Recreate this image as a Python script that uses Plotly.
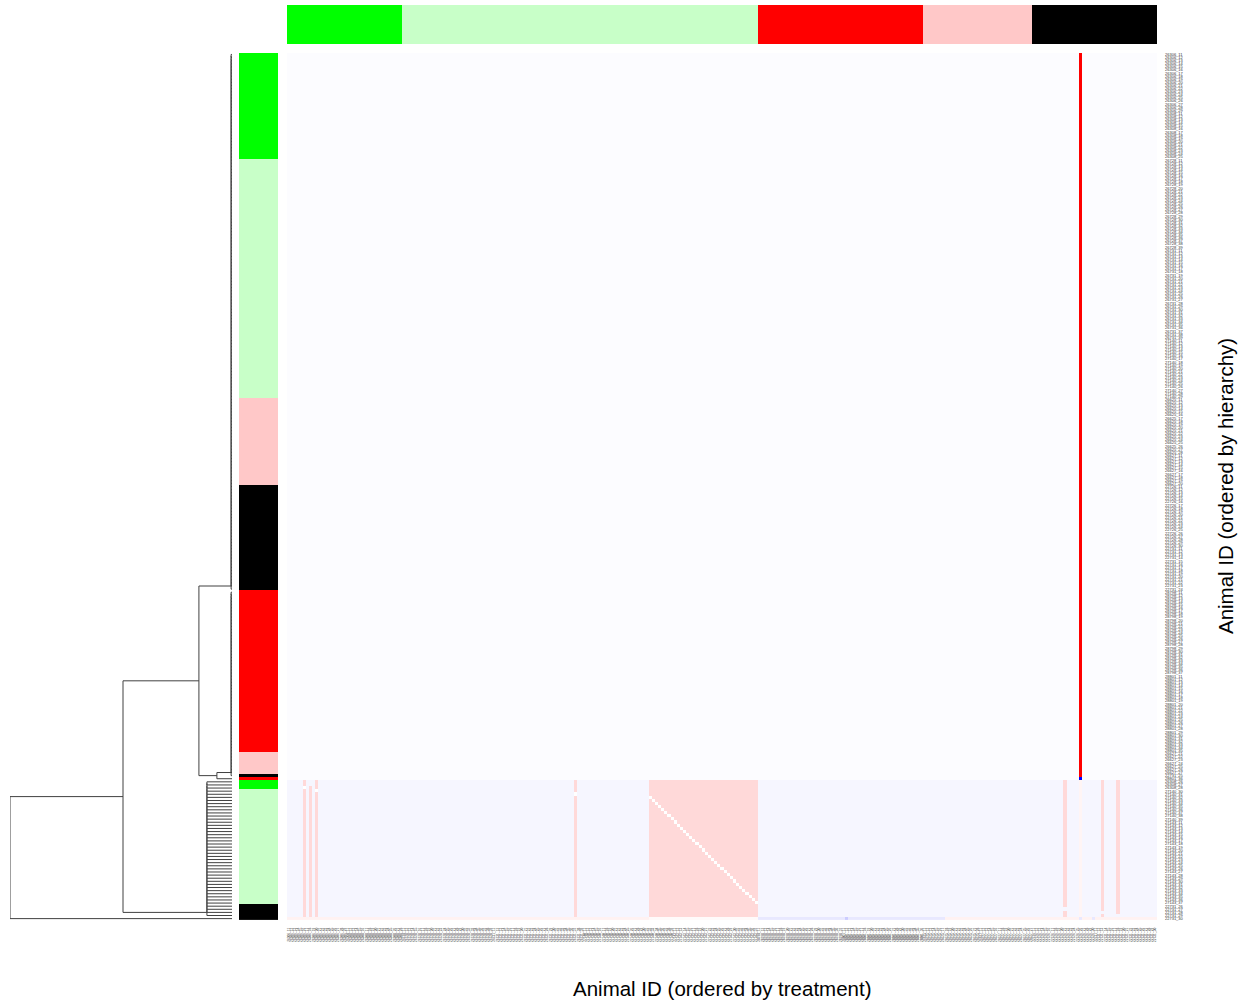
import numpy as np
import plotly.graph_objects as go

W, H = 1247, 1005

# ---- treatment groups (column order) ------------------------------------
group_colors = ["#00ff00", "#c8ffc8", "#ff0000", "#ffc8c8", "#000000"]
group_sizes = [37, 114, 53, 35, 40]
group_litters = [
    ["26306", "26308"],
    ["26728", "26731", "27140", "27143"],
    ["28798", "28801"],
    ["26625", "26627"],
    ["22726", "22731"],
]

# ---- hierarchical order of the rows: (group, number of animals) ----------
row_segments = [
    (0, 34), (1, 77), (3, 28), (4, 34), (2, 52), (3, 7), (4, 1),
    (2, 1), (0, 3), (1, 37), (4, 5),
]

# ---- similarity values: (row0, row1, col0, col1, value), later wins -----
value_blocks = [
    (0, 233, 0, 278, -0.012),
    (234, 277, 0, 278, -0.035),
    (278, 278, 0, 278, 0.05),
    (278, 278, 116, 150, 0.02),
    (278, 278, 151, 210, -0.09),
    (278, 278, 179, 179, -0.2),
    (278, 278, 254, 254, -0.09),
    (278, 278, 258, 258, -0.09),
    (0, 232, 254, 254, 1.0),
    (233, 233, 254, 254, -1.0),
    (234, 277, 254, 254, 0.04),
    (234, 277, 5, 5, 0.15), (236, 236, 5, 5, 0.0),
    (236, 277, 7, 7, 0.15),
    (234, 277, 9, 9, 0.15), (237, 237, 9, 9, 0.0),
    (234, 277, 92, 92, 0.15), (238, 238, 92, 92, 0.0),
    (234, 277, 116, 150, 0.15),
    (234, 274, 249, 249, 0.15), (276, 277, 249, 249, 0.15),
    (234, 275, 261, 261, 0.15), (277, 277, 261, 261, 0.15),
    (234, 276, 266, 266, 0.15),
]
# self pairs inside the pink block (row, col) start and length
diag_start = (239, 116)
diag_len = 35
diag_value = 0.0

# ---- dendrogram ----------------------------------------------------------
# runs of leaves merged one after another at one height (tied distances)
leaf_chains = {
    "A": (0, 172, 0.004),
    "B": (173, 232, 0.004),
    "E": (234, 277, 0.113),
}
# higher merges: (name, left, right, height); integers are single leaves
node_merges = [
    ("C", "B", 233, 0.068),
    ("D", "A", "C", 0.149),
    ("F", "D", "E", 0.491),
    ("root", "F", 278, 1.0),
]

# ---- build labels --------------------------------------------------------
col_group = []
col_labels = []
group_animals = []
for g, size in enumerate(group_sizes):
    litters = group_litters[g]
    per = int(np.ceil(size / len(litters)))
    ids = []
    for i in range(size):
        ids.append(f"{litters[i // per]}_{11 + i % per:02d}")
    group_animals.append(ids)
    col_labels.extend(ids)
    col_group.extend([g] * size)
N = len(col_labels)

row_group, row_labels = [], []
taken = [0] * len(group_sizes)
for g, n in row_segments:
    row_labels.extend(group_animals[g][taken[g]:taken[g] + n])
    row_group.extend([g] * n)
    taken[g] += n

# ---- matrix --------------------------------------------------------------
Z = np.zeros((N, N))
for r0, r1, c0, c1, v in value_blocks:
    Z[r0:r1 + 1, c0:c1 + 1] = v
for k in range(diag_len):
    Z[diag_start[0] + k, diag_start[1] + k] = diag_value

# ---- dendrogram segments -------------------------------------------------
seg_x, seg_y = [], []


def link(left, right, h):
    (pl, hl), (pr, hr) = left, right
    seg_x.extend([hl, h, h, hr, None])
    seg_y.extend([pl, pl, pr, pr, None])
    return ((pl + pr) / 2.0, h)


nodes = {}
for name, (a, b, h) in leaf_chains.items():
    cur = (a, 0.0)
    for leaf in range(a + 1, b + 1):
        cur = link(cur, (leaf, 0.0), h)
    nodes[name] = cur


def resolve(k):
    return nodes[k] if isinstance(k, str) else (k, 0.0)


for name, l, r, h in node_merges:
    nodes[name] = link(resolve(l), resolve(r), h)

# ---- figure --------------------------------------------------------------
def px_x(a, b):
    return [a / W, b / W]


def px_y(top, bottom):
    return [1 - bottom / H, 1 - top / H]


n_g = len(group_colors)
disc_scale = []
for i, c in enumerate(group_colors):
    disc_scale += [[i / n_g, c], [(i + 1) / n_g, c]]

fig = go.Figure()

fig.add_trace(go.Heatmap(
    z=Z, x=list(range(N)), y=list(range(N)),
    colorscale=[[0, "#0000ff"], [0.5, "#ffffff"], [1, "#ff0000"]],
    zmin=-1, zmax=1, showscale=False, zsmooth=False,
    xaxis="x", yaxis="y", hoverinfo="skip",
))

fig.add_trace(go.Heatmap(
    z=[col_group], x=list(range(N)), y=[0],
    colorscale=disc_scale, zmin=-0.5, zmax=n_g - 0.5, showscale=False,
    xaxis="x", yaxis="y2", hoverinfo="skip",
))

fig.add_trace(go.Heatmap(
    z=[[g] for g in row_group], x=[0], y=list(range(N)),
    colorscale=disc_scale, zmin=-0.5, zmax=n_g - 0.5, showscale=False,
    xaxis="x3", yaxis="y", hoverinfo="skip",
))

fig.add_trace(go.Scatter(
    x=seg_x, y=seg_y, mode="lines",
    line=dict(color="#404040", width=1),
    xaxis="x4", yaxis="y", hoverinfo="skip", showlegend=False,
))

hidden = dict(showgrid=False, zeroline=False, showticklabels=False,
              ticks="", showline=False)

fig.update_layout(
    width=W, height=H,
    margin=dict(l=0, r=0, t=0, b=0),
    paper_bgcolor="white", plot_bgcolor="white",
    showlegend=False,
    font=dict(family="Liberation Sans, Arial, sans-serif", color="#000"),
    xaxis=dict(
        domain=px_x(287, 1157), anchor="y", range=[-0.5, N - 0.5],
        tickmode="array", tickvals=list(range(N)), ticktext=col_labels,
        tickangle=-90, tickfont=dict(size=3.2, color="#333"),
        ticks="", showgrid=False, zeroline=False, showline=False,
        ticklabelstandoff=6,
    ),
    yaxis=dict(
        domain=px_y(52, 921), anchor="x", side="right",
        range=[N - 0.5, -0.5],
        tickmode="array", tickvals=list(range(N)), ticktext=row_labels,
        tickfont=dict(size=4, color="#333"),
        ticks="", showgrid=False, zeroline=False, showline=False,
        ticklabelstandoff=7,
    ),
    yaxis2=dict(domain=px_y(4, 43), anchor="x", range=[-0.5, 0.5], **hidden),
    xaxis3=dict(domain=px_x(239, 278), anchor="y", range=[-0.5, 0.5], **hidden),
    xaxis4=dict(domain=px_x(10, 232), anchor="y", range=[1.0, 0.0], **hidden),
    annotations=[
        dict(text="Animal ID (ordered by treatment)", xref="paper", yref="paper",
             x=722 / W, y=1 - 989 / H, xanchor="center", yanchor="middle",
             showarrow=False, font=dict(size=20.5, color="#000")),
        dict(text="Animal ID (ordered by hierarchy)", xref="paper", yref="paper",
             x=1225 / W, y=1 - 486 / H, xanchor="center", yanchor="middle",
             textangle=-90, showarrow=False, font=dict(size=20.5, color="#000")),
    ],
)

fig.write_html("out.html")
